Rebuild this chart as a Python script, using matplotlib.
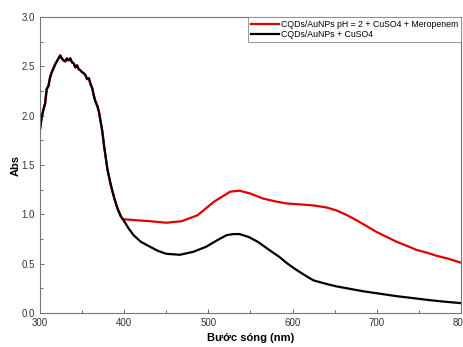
import matplotlib.pyplot as plt
from matplotlib.ticker import MultipleLocator

plt.rcParams["font.family"] = ["Liberation Sans", "DejaVu Sans"]

# shared part of both spectra (300-400 nm)
wl_uv = [300, 302, 304, 306, 308, 310, 312, 314, 316, 318, 320, 322, 324, 326,
         328, 330, 332, 334, 336, 338, 340, 342, 344, 346, 348, 350, 352, 354,
         356, 358, 360, 362, 364, 366, 368, 370, 372, 374, 376, 378, 380, 384,
         388, 392, 396, 400]
abs_uv = [1.86, 1.98, 2.06, 2.12, 2.27, 2.30, 2.39, 2.44, 2.48, 2.52, 2.55, 2.58,
          2.61, 2.58, 2.56, 2.55, 2.58, 2.56, 2.58, 2.54, 2.53, 2.49, 2.51, 2.47,
          2.46, 2.44, 2.43, 2.41, 2.37, 2.38, 2.32, 2.28, 2.20, 2.14, 2.10, 2.04,
          1.94, 1.84, 1.70, 1.58, 1.46, 1.30, 1.17, 1.06, 0.98, 0.93]

# red: CQDs/AuNPs pH = 2 + CuSO4 + Meropenem (400-800 nm)
wl_red = [400, 415, 431, 450, 468, 487, 507, 526, 537, 550, 565, 580, 593, 610,
          625, 640, 652, 665, 676, 690, 700, 712, 724, 736, 747, 760, 771, 785,
          800]
abs_red = [0.95, 0.94, 0.93, 0.915, 0.93, 0.99, 1.13, 1.23, 1.24, 1.21, 1.16, 1.13,
           1.11, 1.10, 1.09, 1.07, 1.04, 0.99, 0.94, 0.87, 0.82, 0.77, 0.72, 0.68,
           0.64, 0.61, 0.58, 0.55, 0.51]

# black: CQDs/AuNPs + CuSO4 (400-800 nm)
wl_blk = [400, 405, 411, 420, 431, 440, 450, 466, 482, 497, 513, 522, 530, 537,
          548, 559, 572, 584, 594, 604, 615, 625, 640, 652, 668, 684, 704, 724,
          744, 763, 780, 800]
abs_blk = [0.93, 0.86, 0.79, 0.72, 0.67, 0.63, 0.60, 0.59, 0.62, 0.67, 0.75, 0.79,
           0.80, 0.80, 0.77, 0.72, 0.64, 0.57, 0.50, 0.44, 0.38, 0.33, 0.295, 0.27,
           0.245, 0.22, 0.195, 0.17, 0.15, 0.13, 0.115, 0.10]

fig = plt.figure(figsize=(4.64, 3.47), dpi=100)
ax = fig.add_axes([40 / 464, 34 / 347, 421 / 464, 296 / 347])

ax.plot(wl_uv + wl_red, abs_uv + abs_red, color="#e00000", lw=1.6,
        label="CQDs/AuNPs pH = 2 + CuSO4 + Meropenem")
ax.plot(wl_uv + wl_blk[1:], abs_uv + abs_blk[1:], color="black", lw=1.6,
        label="CQDs/AuNPs + CuSO4")

ax.set_xlim(300, 800)
ax.set_ylim(0, 3.0)
ax.xaxis.set_major_locator(MultipleLocator(100))
ax.xaxis.set_minor_locator(MultipleLocator(50))
ax.yaxis.set_major_locator(MultipleLocator(0.5))
ax.yaxis.set_minor_locator(MultipleLocator(0.25))
ax.tick_params(which="both", direction="in", colors="#555555",
               labelcolor="#333333", labelsize=7, width=0.6)
ax.tick_params(which="major", length=3)
ax.tick_params(which="minor", length=2)
for s in ax.spines.values():
    s.set_color("#777777")
    s.set_linewidth(0.8)

ax.set_xlabel("Bước sóng (nm)", fontsize=8, fontweight="bold", labelpad=4)
ax.set_ylabel("Abs", fontsize=8, fontweight="bold", labelpad=1)

leg = ax.legend(loc="upper right", fontsize=6.3, borderaxespad=0,
                handlelength=3.3, handletextpad=0.2, labelspacing=0.15,
                fancybox=False, framealpha=1, borderpad=0.3)
leg.get_frame().set_edgecolor("#888888")
leg.get_frame().set_linewidth(0.6)

plt.savefig("out.png", dpi=100)
